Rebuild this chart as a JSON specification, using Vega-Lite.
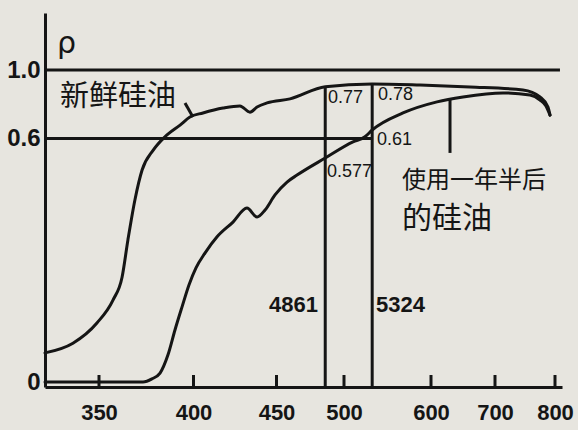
{
  "$schema": "https://vega.github.io/schema/vega-lite/v6.json",
  "width": 517,
  "height": 374,
  "autosize": {"type": "none"},
  "padding": {"left": 45, "top": 13, "right": 16, "bottom": 43},
  "background": "#e7e5df",
  "config": {"view": {"stroke": null}, "axis": {"grid": false}},
  "layer": [
    {
      "data": {"values": [
        {"series": "fresh", "wavelength": 321.4, "rho": 0.075},
        {"series": "fresh", "wavelength": 336.2, "rho": 0.100},
        {"series": "fresh", "wavelength": 348.9, "rho": 0.152},
        {"series": "fresh", "wavelength": 357.4, "rho": 0.211},
        {"series": "fresh", "wavelength": 362.2, "rho": 0.270},
        {"series": "fresh", "wavelength": 365.3, "rho": 0.366},
        {"series": "fresh", "wavelength": 369.0, "rho": 0.469},
        {"series": "fresh", "wavelength": 372.8, "rho": 0.546},
        {"series": "fresh", "wavelength": 378.6, "rho": 0.586},
        {"series": "fresh", "wavelength": 384.9, "rho": 0.602},
        {"series": "fresh", "wavelength": 392.9, "rho": 0.628},
        {"series": "fresh", "wavelength": 398.1, "rho": 0.658},
        {"series": "fresh", "wavelength": 405.7, "rho": 0.673},
        {"series": "fresh", "wavelength": 417.8, "rho": 0.691},
        {"series": "fresh", "wavelength": 428.0, "rho": 0.699},
        {"series": "fresh", "wavelength": 434.0, "rho": 0.676},
        {"series": "fresh", "wavelength": 438.3, "rho": 0.695},
        {"series": "fresh", "wavelength": 444.3, "rho": 0.710},
        {"series": "fresh", "wavelength": 460.0, "rho": 0.725},
        {"series": "fresh", "wavelength": 486.1, "rho": 0.77},
        {"series": "fresh", "wavelength": 532.4, "rho": 0.78},
        {"series": "fresh", "wavelength": 587.4, "rho": 0.776},
        {"series": "fresh", "wavelength": 660.9, "rho": 0.769},
        {"series": "fresh", "wavelength": 746.7, "rho": 0.758},
        {"series": "fresh", "wavelength": 775.0, "rho": 0.732},
        {"series": "fresh", "wavelength": 788.3, "rho": 0.695},
        {"series": "fresh", "wavelength": 791.7, "rho": 0.665},
        {"series": "used", "wavelength": 321.4, "rho": 0.0},
        {"series": "used", "wavelength": 373.3, "rho": 0.0},
        {"series": "used", "wavelength": 378.0, "rho": 0.008},
        {"series": "used", "wavelength": 382.3, "rho": 0.023},
        {"series": "used", "wavelength": 386.5, "rho": 0.070},
        {"series": "used", "wavelength": 390.2, "rho": 0.134},
        {"series": "used", "wavelength": 393.9, "rho": 0.193},
        {"series": "used", "wavelength": 397.6, "rho": 0.250},
        {"series": "used", "wavelength": 401.5, "rho": 0.294},
        {"series": "used", "wavelength": 406.9, "rho": 0.332},
        {"series": "used", "wavelength": 414.2, "rho": 0.374},
        {"series": "used", "wavelength": 423.8, "rho": 0.412},
        {"series": "used", "wavelength": 432.2, "rho": 0.448},
        {"series": "used", "wavelength": 438.3, "rho": 0.425},
        {"series": "used", "wavelength": 443.1, "rho": 0.443},
        {"series": "used", "wavelength": 449.1, "rho": 0.482},
        {"series": "used", "wavelength": 457.8, "rho": 0.515},
        {"series": "used", "wavelength": 465.2, "rho": 0.533},
        {"series": "used", "wavelength": 486.1, "rho": 0.577},
        {"series": "used", "wavelength": 510.3, "rho": 0.596},
        {"series": "used", "wavelength": 524.1, "rho": 0.602},
        {"series": "used", "wavelength": 532.4, "rho": 0.61},
        {"series": "used", "wavelength": 567.8, "rho": 0.673},
        {"series": "used", "wavelength": 609.4, "rho": 0.714},
        {"series": "used", "wavelength": 650.0, "rho": 0.732},
        {"series": "used", "wavelength": 713.3, "rho": 0.747},
        {"series": "used", "wavelength": 758.3, "rho": 0.739},
        {"series": "used", "wavelength": 775.0, "rho": 0.721},
        {"series": "used", "wavelength": 785.0, "rho": 0.699},
        {"series": "used", "wavelength": 791.7, "rho": 0.665}
      ]},
      "mark": {"type": "line", "interpolate": "monotone", "color": "#151515", "strokeWidth": 3, "strokeCap": "round"},
      "encoding": {
        "x": {"field": "wavelength", "type": "quantitative",
          "scale": {"type": "linear", "domain": [321.4, 350, 400, 450, 500, 600, 700, 800, 811.7], "range": [0, 54, 148.5, 231.5, 299, 386, 450, 510, 517], "nice": false, "zero": false},
          "axis": {"values": [350, 400, 450, 500, 600, 700, 800], "format": "d", "title": null, "grid": false,
            "domainWidth": 3, "domainColor": "#151515", "ticks": false,
            "labelFont": "Liberation Sans", "labelFontSize": 22, "labelFontWeight": "bold", "labelColor": "#151515",
            "labelPadding": 15, "labelFlush": false, "labelOverlap": false}},
        "y": {"field": "rho", "type": "quantitative",
          "scale": {"type": "linear", "domain": [-0.0129, 0, 0.577, 0.61, 0.78, 1.0, 1.8957], "range": [374, 369, 145, 117, 71, 57, 0], "nice": false, "zero": false},
          "axis": {"values": [0, 0.6, 1.0], "labelExpr": "datum.value == 0 ? '0' : format(datum.value, '.1f')", "ticks": false, "grid": false,
            "domainWidth": 3, "domainColor": "#151515",
            "labelFont": "Liberation Sans", "labelFontSize": 24, "labelFontWeight": "bold", "labelColor": "#151515", "labelPadding": 5, "labelBaseline": "middle",
            "title": "ρ", "titleAngle": 0, "titleX": 21, "titleY": 30, "titleFont": "DejaVu Sans", "titleFontSize": 30, "titleFontWeight": "normal", "titleColor": "#151515", "titleAlign": "center", "titleBaseline": "middle"}},
        "detail": {"field": "series", "type": "nominal"}
      }
    },
    {
      "data": {"values": [
        {"x": 321.4, "x2": 808.3, "y": 1.0, "y2": 1.0},
        {"x": 321.4, "x2": 532.4, "y": 0.6, "y2": 0.6},
        {"x": 486.1, "x2": 486.1, "y": -0.0129, "y2": 0.77},
        {"x": 532.4, "x2": 532.4, "y": -0.0129, "y2": 0.78},
        {"x": 629.7, "x2": 629.7, "y": 0.583, "y2": 0.721},
        {"x": 395.5, "x2": 399.7, "y": 0.71, "y2": 0.658},
        {"x": 350, "x2": 350, "y": -0.0129, "y2": 0.018},
        {"x": 400, "x2": 400, "y": -0.0129, "y2": 0.018},
        {"x": 450, "x2": 450, "y": -0.0129, "y2": 0.018},
        {"x": 500, "x2": 500, "y": -0.0129, "y2": 0.018},
        {"x": 600, "x2": 600, "y": -0.0129, "y2": 0.018},
        {"x": 700, "x2": 700, "y": -0.0129, "y2": 0.018},
        {"x": 800, "x2": 800, "y": -0.0129, "y2": 0.018}
      ]},
      "mark": {"type": "rule", "color": "#151515", "strokeWidth": 3},
      "encoding": {
        "x": {"field": "x", "type": "quantitative", "scale": {"type": "linear", "domain": [321.4, 350, 400, 450, 500, 600, 700, 800, 811.7], "range": [0, 54, 148.5, 231.5, 299, 386, 450, 510, 517], "nice": false, "zero": false}},
        "x2": {"field": "x2"},
        "y": {"field": "y", "type": "quantitative", "scale": {"type": "linear", "domain": [-0.0129, 0, 0.577, 0.61, 0.78, 1.0, 1.8957], "range": [374, 369, 145, 117, 71, 57, 0], "nice": false, "zero": false}},
        "y2": {"field": "y2"}
      }
    },
    {
      "data": {"values": [
        {"x": 329.3, "y": 0.732, "label": "新鲜硅油"}
      ]},
      "mark": {"type": "text", "align": "left", "baseline": "middle", "font": "Noto Sans CJK SC", "fontSize": 29, "color": "#151515"},
      "encoding": {
        "x": {"field": "x", "type": "quantitative", "scale": {"type": "linear", "domain": [321.4, 350, 400, 450, 500, 600, 700, 800, 811.7], "range": [0, 54, 148.5, 231.5, 299, 386, 450, 510, 517], "nice": false, "zero": false}},
        "y": {"field": "y", "type": "quantitative", "scale": {"type": "linear", "domain": [-0.0129, 0, 0.577, 0.61, 0.78, 1.0, 1.8957], "range": [374, 369, 145, 117, 71, 57, 0], "nice": false, "zero": false}},
        "text": {"field": "label"}
      }
    },
    {
      "data": {"values": [
        {"x": 566.7, "y": 0.518, "label": "使用一年半后"}
      ]},
      "mark": {"type": "text", "align": "left", "baseline": "middle", "font": "Noto Sans CJK SC", "fontSize": 24, "color": "#151515"},
      "encoding": {
        "x": {"field": "x", "type": "quantitative", "scale": {"type": "linear", "domain": [321.4, 350, 400, 450, 500, 600, 700, 800, 811.7], "range": [0, 54, 148.5, 231.5, 299, 386, 450, 510, 517], "nice": false, "zero": false}},
        "y": {"field": "y", "type": "quantitative", "scale": {"type": "linear", "domain": [-0.0129, 0, 0.577, 0.61, 0.78, 1.0, 1.8957], "range": [374, 369, 145, 117, 71, 57, 0], "nice": false, "zero": false}},
        "text": {"field": "label"}
      }
    },
    {
      "data": {"values": [
        {"x": 566.7, "y": 0.420, "label": "的硅油"}
      ]},
      "mark": {"type": "text", "align": "left", "baseline": "middle", "font": "Noto Sans CJK SC", "fontSize": 30, "color": "#151515"},
      "encoding": {
        "x": {"field": "x", "type": "quantitative", "scale": {"type": "linear", "domain": [321.4, 350, 400, 450, 500, 600, 700, 800, 811.7], "range": [0, 54, 148.5, 231.5, 299, 386, 450, 510, 517], "nice": false, "zero": false}},
        "y": {"field": "y", "type": "quantitative", "scale": {"type": "linear", "domain": [-0.0129, 0, 0.577, 0.61, 0.78, 1.0, 1.8957], "range": [374, 369, 145, 117, 71, 57, 0], "nice": false, "zero": false}},
        "text": {"field": "label"}
      }
    },
    {
      "data": {"values": [
        {"x": 488.1, "y": 0.728, "label": "0.77"},
        {"x": 539.1, "y": 0.739, "label": "0.78"},
        {"x": 537.9, "y": 0.598, "label": "0.61"},
        {"x": 487.4, "y": 0.541, "label": "0.577"}
      ]},
      "mark": {"type": "text", "align": "left", "baseline": "middle", "font": "Liberation Sans", "fontSize": 18, "color": "#151515"},
      "encoding": {
        "x": {"field": "x", "type": "quantitative", "scale": {"type": "linear", "domain": [321.4, 350, 400, 450, 500, 600, 700, 800, 811.7], "range": [0, 54, 148.5, 231.5, 299, 386, 450, 510, 517], "nice": false, "zero": false}},
        "y": {"field": "y", "type": "quantitative", "scale": {"type": "linear", "domain": [-0.0129, 0, 0.577, 0.61, 0.78, 1.0, 1.8957], "range": [374, 369, 145, 117, 71, 57, 0], "nice": false, "zero": false}},
        "text": {"field": "label"}
      }
    },
    {
      "data": {"values": [
        {"x": 480.7, "y": 0.198, "label": "4861"}
      ]},
      "mark": {"type": "text", "align": "right", "baseline": "middle", "font": "Liberation Sans", "fontSize": 22, "fontWeight": "bold", "color": "#151515"},
      "encoding": {
        "x": {"field": "x", "type": "quantitative", "scale": {"type": "linear", "domain": [321.4, 350, 400, 450, 500, 600, 700, 800, 811.7], "range": [0, 54, 148.5, 231.5, 299, 386, 450, 510, 517], "nice": false, "zero": false}},
        "y": {"field": "y", "type": "quantitative", "scale": {"type": "linear", "domain": [-0.0129, 0, 0.577, 0.61, 0.78, 1.0, 1.8957], "range": [374, 369, 145, 117, 71, 57, 0], "nice": false, "zero": false}},
        "text": {"field": "label"}
      }
    },
    {
      "data": {"values": [
        {"x": 536.8, "y": 0.198, "label": "5324"}
      ]},
      "mark": {"type": "text", "align": "left", "baseline": "middle", "font": "Liberation Sans", "fontSize": 22, "fontWeight": "bold", "color": "#151515"},
      "encoding": {
        "x": {"field": "x", "type": "quantitative", "scale": {"type": "linear", "domain": [321.4, 350, 400, 450, 500, 600, 700, 800, 811.7], "range": [0, 54, 148.5, 231.5, 299, 386, 450, 510, 517], "nice": false, "zero": false}},
        "y": {"field": "y", "type": "quantitative", "scale": {"type": "linear", "domain": [-0.0129, 0, 0.577, 0.61, 0.78, 1.0, 1.8957], "range": [374, 369, 145, 117, 71, 57, 0], "nice": false, "zero": false}},
        "text": {"field": "label"}
      }
    }
  ]
}
